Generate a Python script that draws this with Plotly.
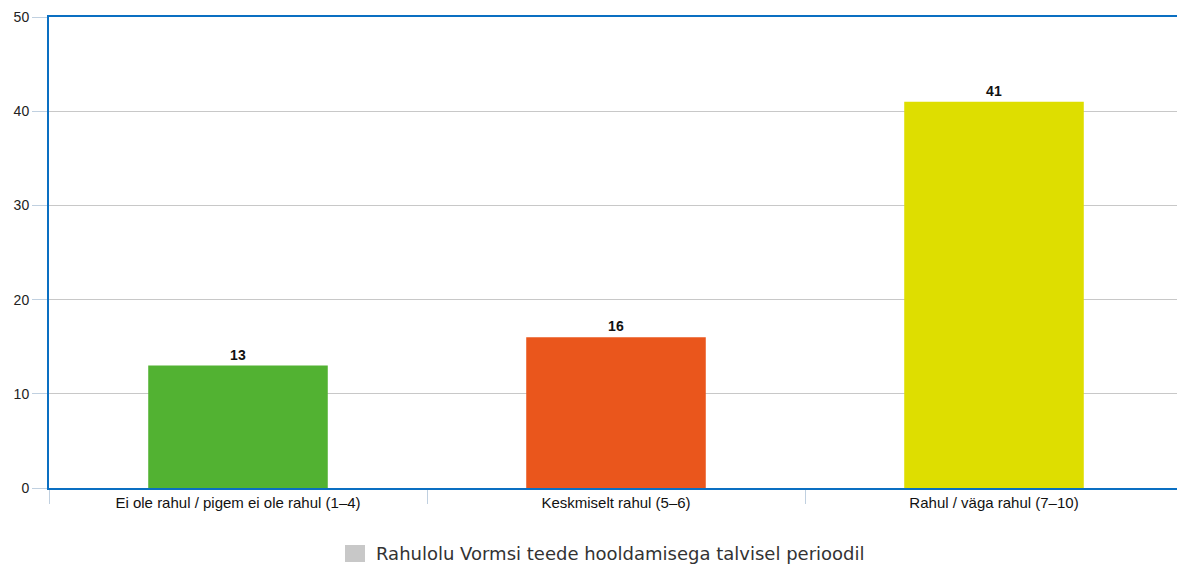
import plotly.graph_objects as go

categories = ["Ei ole rahul / pigem ei ole rahul (1–4)", "Keskmiselt rahul (5–6)", "Rahul / väga rahul (7–10)"]
values = [13, 16, 41]
bar_colors = ["#52b232", "#ea561c", "#dede00"]
series_name = "Rahulolu Vormsi teede hooldamisega talvisel perioodil"
y_ticks = [0, 10, 20, 30, 40, 50]

W, H = 1177, 556
L, R, T, B = 41, 2, 9, 76
pw, ph = W - L - R, H - T - B

def px_x(x):
    return (x - L) / pw

def px_y(y):
    return (H - B - y) / ph

fig = go.Figure()
fig.add_trace(go.Bar(
    x=categories, y=values, marker=dict(color=bar_colors, line=dict(width=0)),
    text=[str(v) for v in values], textposition="outside", cliponaxis=False,
    textfont=dict(family="Liberation Sans, Arial", size=14, color="#111111", weight="bold"),
    showlegend=False, width=0.475,
))

# legend (drawn manually to match the reference spacing)
fig.add_shape(type="rect", xref="paper", yref="paper",
              x0=px_x(337), x1=px_x(357), y0=px_y(537), y1=px_y(554),
              fillcolor="#c8c8c8", line=dict(width=0))
fig.add_annotation(xref="paper", yref="paper", x=px_x(366), y=px_y(545.5),
                   xanchor="left", yanchor="middle", showarrow=False, text=series_name,
                   font=dict(family="DejaVu Sans", size=18, color="#333333"))

fig.update_layout(
    width=W, height=H,
    margin=dict(l=L, r=R, t=T, b=B),
    plot_bgcolor="white", paper_bgcolor="white",
    font=dict(family="Liberation Sans, Arial", color="#222222"),
    showlegend=False,
    xaxis=dict(
        automargin=False,
        tickson="boundaries", ticks="outside", ticklen=14, tickcolor="#c0d0e0", tickwidth=1,
        showline=True, linecolor="#0a6fc2", linewidth=2, mirror=True,
        tickfont=dict(size=15, color="#111111"), showgrid=False,
    ),
    yaxis=dict(
        automargin=False,
        range=[0, 50], tickvals=y_ticks, ticks="outside", ticklen=15, tickcolor="#c0d0e0",
        showline=True, linecolor="#0a6fc2", linewidth=2, mirror=True,
        gridcolor="#c8c8c8", gridwidth=1, zeroline=False,
        tickfont=dict(size=14, color="#222222"),
    ),
)

fig.write_html("out.html")
